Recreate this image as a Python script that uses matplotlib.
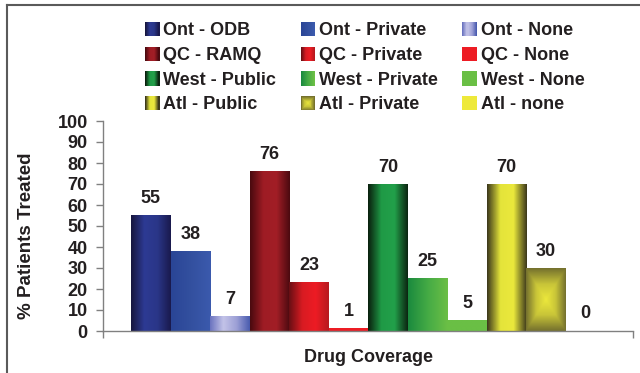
import matplotlib

matplotlib.use("Agg")

import matplotlib.pyplot as plt
import numpy as np
from matplotlib.colors import LinearSegmentedColormap
from matplotlib.legend_handler import HandlerBase
from matplotlib.lines import Line2D
from matplotlib.patches import Rectangle

plt.rcParams["font.family"] = ["Liberation Sans", "DejaVu Sans"]
plt.rcParams["font.weight"] = "bold"

series = [
    "Ont - ODB", "Ont - Private", "Ont - None",
    "QC - RAMQ", "QC - Private", "QC - None",
    "West - Public", "West - Private", "West - None",
    "Atl - Public", "Atl - Private", "Atl - none",
]
values = [55, 38, 7, 76, 23, 1, 70, 25, 5, 70, 30, 0]
y_ticks = list(range(0, 101, 10))
x_label = "Drug Coverage"
y_label = "% Patients Treated"

# fill style per series: (kind, colour stops)
STYLES = [
    ("h", ["#17163f", "#2d3a93", "#2a3688", "#1a1a4e"]),
    ("h", ["#2a4596", "#33509f", "#3b5aad"]),
    ("h", ["#6c74c0", "#c3c3e8", "#9da0d6", "#4a5caf"]),
    ("h", ["#4a0a0f", "#9e1c24", "#a21e26", "#4c0a10"]),
    ("h", ["#6a0f14", "#d81b22", "#ed1c24", "#b8191f"]),
    ("flat", ["#ed1c24"]),
    ("h", ["#0a200e", "#1f9a46", "#22a04a", "#0c2612"]),
    ("h", ["#1b8a3e", "#45ab45", "#6cbf45"]),
    ("flat", ["#6abf45"]),
    ("h", ["#3d391c", "#e4e43a", "#ebe83c", "#3e3a1c"]),
    ("box", ["#ece83c", "#c8c438", "#76722e"]),
    ("flat", ["#eee93a"]),
]
TEXT = "#231f20"
GREY = "#808080"


def _cmap(stops):
    if len(stops) == 1:
        stops = stops * 2
    return LinearSegmentedColormap.from_list("g", stops)


def _gradient(kind, stops, n=64):
    cmap = _cmap(stops)
    if kind == "box":
        u = np.abs(np.linspace(-1, 1, n))
        return cmap(np.maximum(u[None, :], u[:, None]))
    return cmap(np.linspace(0, 1, n)[None, :])


class GradientSwatch(HandlerBase):
    def __init__(self, kind, stops):
        super().__init__()
        self.kind = kind
        self.stops = stops

    def create_artists(self, legend, orig_handle, xdescent, ydescent,
                       width, height, fontsize, trans):
        cmap = _cmap(self.stops)
        x0, y0 = -xdescent, -ydescent
        artists = []
        if self.kind == "box":
            n = 8
            for i in range(n):
                f = 1 - i / n
                w, h = width * f, height * f
                artists.append(Rectangle((x0 + (width - w) / 2, y0 + (height - h) / 2), w, h,
                                         facecolor=cmap(f), edgecolor="none", transform=trans))
        else:
            n = 14
            sw = width / n
            for i in range(n):
                artists.append(Rectangle((x0 + i * sw, y0), sw * 1.1, height,
                                         facecolor=cmap(i / (n - 1)), edgecolor="none",
                                         transform=trans))
        return artists


fig = plt.figure(figsize=(6.4, 3.73), dpi=100)
ax = fig.add_axes([103 / 640, 1 - 331 / 373, 530 / 640, 210 / 373])

x = np.arange(len(values))
bars = ax.bar(x, values, width=1.0, color="none", edgecolor="none")
for bar, (kind, stops), v in zip(bars, STYLES, values):
    if v > 0:
        x0 = bar.get_x()
        ax.imshow(_gradient(kind, stops), extent=[x0, x0 + bar.get_width(), 0, v],
                  aspect="auto", interpolation="bilinear", zorder=2)
    ax.annotate(str(v), (bar.get_x() + bar.get_width() / 2, v), xytext=(0, 9),
                textcoords="offset points", ha="center", va="baseline",
                fontsize=13, fontweight="bold", color=TEXT)

ax.set_xlim(-1.21, 12.2)
ax.set_ylim(0, 100)
ax.set_yticks(y_ticks)
ax.set_xticks(ax.get_xlim())
ax.set_xticklabels([])
ax.tick_params(axis="both", direction="out", length=5, width=1, color=GREY,
               labelsize=13, labelcolor=TEXT, pad=6)
for lab in ax.get_yticklabels():
    lab.set_fontweight("bold")
for side in ("top", "right"):
    ax.spines[side].set_visible(False)
for side in ("left", "bottom"):
    ax.spines[side].set_color(GREY)
    ax.spines[side].set_linewidth(1)

ax.set_ylabel(y_label, fontsize=13.5, fontweight="bold", color=TEXT)
ax.yaxis.set_label_coords(-0.128, 0.452)
fig.text(368 / 640, 1 - 358 / 373, x_label, ha="center", va="center",
         fontsize=13, fontweight="bold", color=TEXT)

# legend is filled column by column, so reorder the row-wise series list
order = [r * 3 + c for c in range(3) for r in range(4)]
proxies = [Rectangle((0, 0), 1, 1) for _ in series]
handler_map = {proxies[i]: GradientSwatch(*STYLES[i]) for i in range(len(series))}
leg = fig.legend([proxies[i] for i in order], [series[i] for i in order],
                 ncol=3, loc="upper left", bbox_to_anchor=(145 / 640, 1 - 22 / 373),
                 frameon=False, borderpad=0, borderaxespad=0,
                 handlelength=0.8, handleheight=0.85, handletextpad=0.22,
                 columnspacing=1.35, labelspacing=0.4,
                 prop={"size": 13, "weight": "bold"}, handler_map=handler_map)
for t in leg.get_texts():
    t.set_color(TEXT)

# outer frame (only top and left edges show)
fig.add_artist(Line2D([7 / 640, 1], [1 - 5 / 373] * 2, color="#5a5a5a", lw=1.5))
fig.add_artist(Line2D([7 / 640] * 2, [0, 1 - 5 / 373], color="#5a5a5a", lw=1.5))

fig.savefig("out.png", dpi=100)
